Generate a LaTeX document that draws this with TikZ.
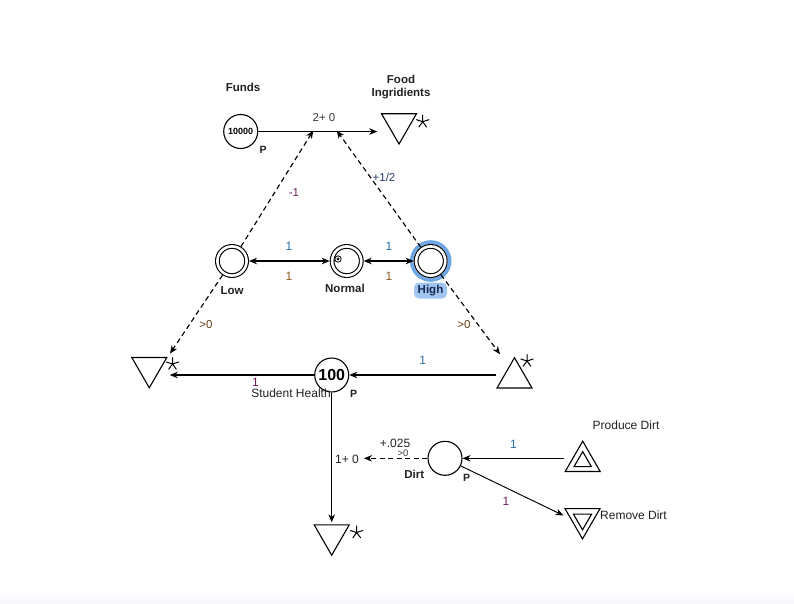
\documentclass[tikz,border=0pt]{standalone}
\usepackage{fontspec}
\setmainfont{Liberation Sans}
\usetikzlibrary{arrows.meta,shapes.geometric,calc}
\definecolor{txt}{HTML}{222222}
\definecolor{lblblue}{HTML}{2B6FA8}
\definecolor{lblbrown}{HTML}{8A5A22}
\definecolor{lblpurple}{HTML}{6E1E5A}
\definecolor{lbldark}{HTML}{3A3A3A}
\definecolor{glowblue}{HTML}{6FA6E6}
\definecolor{highnavy}{HTML}{152A55}
\begin{document}
\begin{tikzpicture}[x=1pt,y=-1pt,
  tip/.tip={Stealth[length=8pt,width=6.5pt,inset=2.5pt]},
  conn/.style={line width=1.15pt,-tip},
  dconn/.style={conn,dash pattern=on 5pt off 3.5pt},
  biarr/.style={line width=1.15pt,tip-tip},
  pool/.style={circle,draw,line width=1.1pt,minimum size=34pt,inner sep=0pt},
  dpool/.style={circle,draw,line width=1.1pt,double=white,double distance=2.6pt,minimum size=29.2pt,inner sep=0pt,outer sep=2.4pt},
  drainshape/.style={regular polygon,regular polygon sides=3,shape border rotate=180,draw,line width=1.1pt,minimum size=40.4pt,inner sep=0pt},
  srcshape/.style={regular polygon,regular polygon sides=3,draw,line width=1.1pt,minimum size=40.4pt,inner sep=0pt},
  innerdrain/.style={drainshape,minimum size=21pt},
  innersrc/.style={srcshape,minimum size=20pt},
  lbl/.style={font=\fontsize{12}{14}\selectfont,text=txt,inner sep=0pt},
  elbl/.style={font=\fontsize{11.5}{13}\selectfont,text=lbldark,inner sep=0pt},
  blbl/.style={font=\bfseries\fontsize{11.5}{13.5}\selectfont,text=txt,inner sep=0pt,align=center},
  plbl/.style={font=\bfseries\fontsize{10.5}{12}\selectfont,text=txt,inner sep=0pt},
  astar/.pic={\draw[line width=1pt,line cap=round]
     (0,0)--(-90:6.5) (0,0)--(-18:6.5) (0,0)--(-162:6.5) (0,0)--(54:6.5) (0,0)--(126:6.5);}
]
\useasboundingbox (0,0) rectangle (794,603);
\fill[white] (0,0) rectangle (794,603);
\shade[top color=white,bottom color={rgb,255:red,247;green,248;blue,252}] (0,588) rectangle (794,603);

% ---- pools
\node[pool] (funds) at (240.7,131.5) {\bfseries\fontsize{9}{10}\selectfont 10000};
\node[pool] (sh) at (331.7,375) {\bfseries\fontsize{16}{18}\selectfont 100};
\node[pool] (dirt) at (445,458.3) {};

% ---- High glow
\draw[glowblue,line width=3.6pt] (430.7,261) circle (19pt);
\node[dpool] (low) at (232,261) {};
\node[dpool] (normal) at (346.7,261) {};
\node[dpool] (high) at (430.7,261) {};
\draw[line width=0.8pt] (338,259) circle (3.2pt);
\fill (338,259) circle (1.6pt);

% ---- drains / sources
\node[drainshape] (food) at (399,123.8) {};
\node[drainshape] (ldrain) at (149.3,367.6) {};
\node[srcshape] (rsrc) at (514.5,377.9) {};
\node[drainshape] (bdrain) at (331.7,535) {};
\node[srcshape] (psrc) at (582.7,461.4) {};
\node[innersrc] (psrcin) at (582.7,461.6) {};
\node[drainshape] (rdrain) at (582.5,518.7) {};
\node[innerdrain] (rdrainin) at (582.5,519.3) {};

\pic at (422.7,121.7) {astar};
\pic at (172.5,364) {astar};
\pic at (527,361) {astar};
\pic at (356.7,532.5) {astar};

% ---- free ends
\coordinate (m1) at (313.3,130.5);
\coordinate (m2) at (336.7,130.5);
\coordinate (dirtend) at (364,458.3);

% ---- connectors
\draw[conn] (funds) -- ([xshift=-9.4pt]funds -| food.180);
\draw[dconn] (low) -- (m1);
\draw[dconn] (high) -- (m2);
\draw[biarr] (low) -- (normal);
\draw[biarr] (normal) -- (high);
\draw[dconn,shorten >=4pt] (low) -- (ldrain.30);
\draw[dconn] (high) -- ([xshift=-14.5pt,yshift=2.4pt]rsrc.90);
\draw[conn] (sh -| rsrc.210) -- (sh);
\draw[conn] (sh) -- ([xshift=2pt]sh -| ldrain.30);
\draw[conn] (sh) -- ([yshift=2pt]sh |- bdrain.90);
\draw[dconn] (dirt) -- (dirtend);
\draw[conn] (dirt -| psrc.210) -- (dirt);
\draw[conn,line width=0.95pt,shorten >=7.5pt] (dirt) -- (rdrain.180);

% ---- labels
\node[blbl] (tfunds) at (243,87) {Funds};
\node[blbl] (tfood) at (401,87) {Food\\Ingridients};
\node[plbl] (pfunds) at (263,150) {P};
\node[elbl] (l2p0) at (324,117.5) {2+ 0};
\node[elbl,text=lblpurple] (lm1) at (294,192.7) {-1};
\node[elbl,text={rgb,255:red,40;green,60;blue,100}] (lhalf) at (384,177) {+1/2};

\node[blbl] (tlow) at (232,290.5) {Low};
\node[blbl] (tnormal) at (345,288.7) {Normal};
\fill[glowblue!65,rounded corners=5pt] (414,282.5) rectangle (447,298.5);
\node[blbl,text=highnavy] (thigh) at (430.5,290.5) {High};

\node[lbl,text=lblblue] (l1a) at (289,246) {1};
\node[lbl,text=lblbrown] (l1b) at (289,276.5) {1};
\node[lbl,text=lblblue] (l1c) at (389,246) {1};
\node[lbl,text=lblbrown] (l1d) at (389,276.5) {1};

\node[elbl,text=lblbrown!70!black] (lgt1) at (206,325) {>0};
\node[elbl,text=lblbrown!70!black] (lgt2) at (464,325) {>0};
\node[lbl,text=lblblue] (l1e) at (422.7,360) {1};
\node[lbl,text=lblpurple] (l1f) at (255.5,382) {1};
\node[lbl] (tsh) at (291,393.5) {Student Health};
\node[plbl] (psh) at (353.5,393.5) {P};

\node[lbl] (l1p0) at (347,459.3) {1+ 0};
\node[lbl] (l025) at (395,443.5) {+.025};
\node[elbl,font=\fontsize{9.5}{10}\selectfont] (lgt3) at (403,453.5) {>0};
\node[blbl] (tdirt) at (414.3,474) {Dirt};
\node[plbl] (pdirt) at (466.7,477.5) {P};
\node[lbl,text=lblblue] (l1g) at (513.5,444.3) {1};
\node[lbl,text=lblpurple] (l1h) at (506,501.7) {1};
\node[lbl] (tprod) at (626,425) {Produce Dirt};
\node[lbl] (trem) at (633.5,515) {Remove Dirt};
\end{tikzpicture}
\end{document}
